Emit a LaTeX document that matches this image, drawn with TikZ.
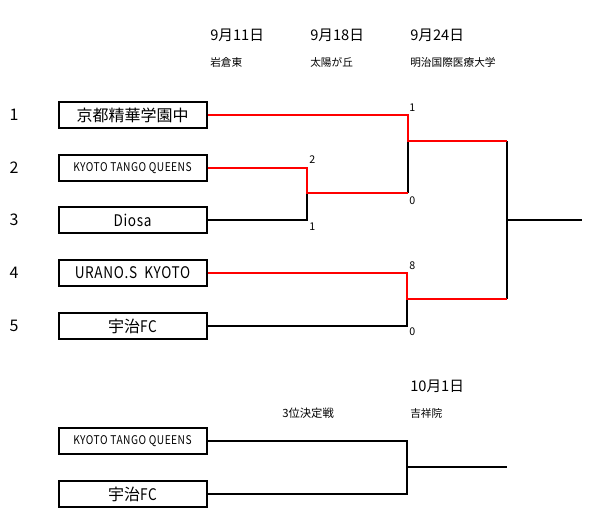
\documentclass[tikz,border=0pt]{standalone}
\usepackage{fontspec}
\setmainfont{Noto Sans CJK JP}
\newfontfamily\narrowfont[FakeStretch=0.85,LetterSpace=4]{Noto Sans CJK JP}
\usetikzlibrary{calc}

\begin{document}
\begin{tikzpicture}[x=0.75pt,y=-0.75pt,
  team/.style={draw,line width=1.5pt,minimum width=111pt,minimum height=19.5pt,inner sep=0pt,font=\fontsize{12pt}{12pt}\selectfont},
  win/.style={red,line width=1.9pt},
  lose/.style={black,line width=1.5pt},
  date/.style={anchor=west,inner sep=0pt,font=\fontsize{11pt}{11pt}\selectfont},
  place/.style={anchor=west,inner sep=0pt,font=\fontsize{8pt}{8pt}\selectfont},
  score/.style={anchor=west,inner sep=0pt,font=\fontsize{8pt}{8pt}\selectfont},
  seed/.style={inner sep=0pt,font=\fontsize{12pt}{12pt}\selectfont}]
\useasboundingbox (0,0) rectangle (600,525);

% dates and grounds
\node[date] (d1) at (210,35) {9月11日};
\node[date] (d2) at (310,35) {9月18日};
\node[date] (d3) at (410,35) {9月24日};
\node[place] (g1) at (210,62) {岩倉東};
\node[place] (g2) at (310,62) {太陽が丘};
\node[place] (g3) at (410,62) {明治国際医療大学};

% teams
\node[team] (t1) at (132.5,115) {京都精華学園中};
\node[team] (t2) at (132.5,168) {\narrowfont\fontsize{9pt}{9pt}\selectfont KYOTO TANGO QUEENS};
\node[team] (t3) at (132.5,220) {\narrowfont Diosa};
\node[team] (t4) at (132.5,273) {\narrowfont URANO.S\ \ KYOTO};
\node[team] (t5) at (132.5,326) {宇治{\narrowfont FC}};
\node[seed] (n1) at (14,115) {1};
\node[seed] (n2) at (14,168) {2};
\node[seed] (n3) at (14,220) {3};
\node[seed] (n4) at (14,273) {4};
\node[seed] (n5) at (14,326) {5};

% joins
\coordinate (j23) at (307,193);
\coordinate (j123) at (408,141);
\coordinate (j45) at (407,299);
\coordinate (jf) at (507,220);
\coordinate (e1) at (582,220);

\draw[lose] (t3.east) -| (j23);
\draw[lose] (j123) -- (j123 |- j23);
\draw[lose] (t5.east) -| (j45);
\draw[lose] (jf |- j123) -- (jf |- j45);
\draw[lose] (jf) -- (e1);
\draw[win] (t2.east) -| (j23) -- (j123 |- j23);
\draw[win] (t1.east) -| (j123) -- (jf |- j123);
\draw[win] (t4.east) -| (j45) -- (jf |- j45);

% scores
\node[score] (s1) at (409,108) {1};
\node[score] (s2) at (409,201) {0};
\node[score] (s3) at (309,160) {2};
\node[score] (s4) at (309,227) {1};
\node[score] (s5) at (409,266) {8};
\node[score] (s6) at (409,332) {0};

% third place
\node[date] (d4) at (410,386) {10月1日};
\node[place] (g4) at (410,413) {吉祥院};
\node[place,font=\fontsize{8.5pt}{8.5pt}\selectfont] (tp) at (282,413) {3位決定戦};
\node[team] (t6) at (132.5,441) {\narrowfont\fontsize{9pt}{9pt}\selectfont KYOTO TANGO QUEENS};
\node[team] (t7) at (132.5,494) {宇治{\narrowfont FC}};
\coordinate (j67) at (407,467);
\coordinate (e2) at (507,467);
\draw[lose] (t6.east) -| (j67);
\draw[lose] (t7.east) -| (j67);
\draw[lose] (j67) -- (e2);

\end{tikzpicture}
\end{document}
